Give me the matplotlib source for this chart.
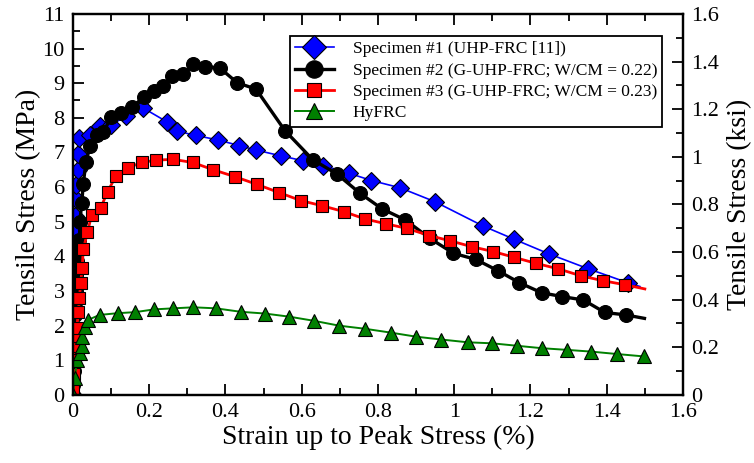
import numpy as np
import matplotlib
matplotlib.use('Agg')
import matplotlib.pyplot as plt
from matplotlib.ticker import MultipleLocator, FormatStrFormatter

plt.rcParams['font.family'] = ['Liberation Serif', 'DejaVu Serif']

# Specimen #1 (UHP-FRC [11])
s1_x = [0.0, 0.001, 0.002, 0.003, 0.003, 0.004, 0.005, 0.007, 0.009, 0.012, 0.012, 0.016,
        0.045, 0.07, 0.1, 0.14, 0.183, 0.247, 0.272, 0.322, 0.381, 0.435, 0.48, 0.546,
        0.604, 0.657, 0.724, 0.783, 0.858, 0.949, 1.075, 1.158, 1.249, 1.352, 1.455, 1.487]
s1_y = [0.0, 1.5, 3.0, 3.9, 4.33, 4.77, 5.17, 5.65, 6.06, 6.5, 6.95, 7.41,
        7.5, 7.75, 7.8, 8.05, 8.29, 7.88, 7.62, 7.49, 7.36, 7.2, 7.07, 6.9,
        6.76, 6.62, 6.4, 6.19, 5.98, 5.58, 4.88, 4.49, 4.07, 3.64, 3.24, 3.13]

# Specimen #2 (G-UHP-FRC; W/CM = 0.22)
s2_x = [0.0, 0.001, 0.002, 0.002, 0.003, 0.003, 0.004, 0.005, 0.006, 0.008, 0.011, 0.014,
        0.017, 0.018, 0.023, 0.027, 0.034, 0.045, 0.062, 0.08, 0.1, 0.126, 0.156, 0.187,
        0.212, 0.236, 0.26, 0.288, 0.316, 0.345, 0.385, 0.431, 0.48, 0.556, 0.629, 0.692,
        0.752, 0.811, 0.872, 0.936, 0.998, 1.057, 1.114, 1.171, 1.229, 1.283, 1.339, 1.395,
        1.45, 1.499]
s2_y = [0.0, 0.3, 0.7, 1.1, 1.5, 1.9, 2.3, 2.65, 3.05, 3.45, 3.88, 4.2,
        4.47, 5.0, 5.53, 6.1, 6.72, 7.2, 7.5, 7.58, 8.03, 8.13, 8.32, 8.61,
        8.77, 8.91, 9.2, 9.26, 9.54, 9.48, 9.44, 9.01, 8.83, 7.63, 6.79, 6.38,
        5.83, 5.37, 5.05, 4.52, 4.09, 3.91, 3.59, 3.24, 2.95, 2.84, 2.74, 2.38,
        2.31, 2.21]

# Specimen #3 (G-UHP-FRC; W/CM = 0.23)
s3_x = [0.0, 0.002, 0.004, 0.006, 0.008, 0.010, 0.014, 0.017, 0.020, 0.024, 0.027, 0.038,
        0.049, 0.073, 0.091, 0.113, 0.143, 0.18, 0.219, 0.263, 0.314, 0.368, 0.425, 0.482,
        0.541, 0.598, 0.654, 0.711, 0.766, 0.821, 0.875, 0.935, 0.989, 1.046, 1.102, 1.158,
        1.214, 1.273, 1.332, 1.389, 1.448, 1.5]
s3_y = [0.2, 0.6, 1.0, 1.4, 1.7, 1.93, 2.4, 2.8, 3.22, 3.66, 4.2, 4.7,
        5.2, 5.41, 5.87, 6.33, 6.55, 6.71, 6.78, 6.8, 6.71, 6.5, 6.3, 6.08,
        5.84, 5.61, 5.46, 5.29, 5.08, 4.94, 4.81, 4.6, 4.45, 4.28, 4.14, 3.97,
        3.8, 3.64, 3.44, 3.3, 3.18, 3.06]

# HyFRC
hy_x = [0.0, 0.005, 0.01, 0.018, 0.023, 0.023, 0.031, 0.04, 0.07, 0.117, 0.163, 0.213,
        0.263, 0.316, 0.375, 0.44, 0.503, 0.567, 0.632, 0.698, 0.766, 0.833, 0.901, 0.966,
        1.035, 1.1, 1.164, 1.229, 1.297, 1.36, 1.428, 1.499]
hy_y = [0.0, 0.5, 1.0, 1.2, 1.4, 1.68, 1.97, 2.17, 2.31, 2.36, 2.39, 2.47,
        2.5, 2.53, 2.5, 2.4, 2.35, 2.26, 2.14, 2.0, 1.91, 1.8, 1.68, 1.6,
        1.52, 1.49, 1.42, 1.35, 1.3, 1.25, 1.18, 1.11]

labels = ['Specimen #1 (UHP-FRC [11])',
          'Specimen #2 (G-UHP-FRC; W/CM = 0.22)',
          'Specimen #3 (G-UHP-FRC; W/CM = 0.23)',
          'HyFRC']

fig = plt.figure(figsize=(7.54, 4.63), dpi=100)
ax = fig.add_axes([0.0968, 0.147, 0.809, 0.823])

ax.plot(s1_x, s1_y, color='blue', lw=1.2, marker='D', ms=9.5, mfc='blue', mec='black', mew=0.8,
        markevery=list(range(len(s1_x) - 1)), label=labels[0])
ax.plot(s2_x, s2_y, color='black', lw=2.4, marker='o', ms=10, mfc='black', mec='black', mew=0.8,
        markevery=list(range(len(s2_x) - 1)), label=labels[1])
ax.plot(s3_x, s3_y, color='red', lw=2.0, marker='s', ms=8.5, mfc='red', mec='black', mew=0.8,
        markevery=list(range(len(s3_x) - 1)), label=labels[2])
ax.plot(hy_x, hy_y, color='green', lw=1.4, marker='^', ms=9.5, mfc='green', mec='black', mew=0.8,
        label=labels[3])

ax.set_xlim(0, 1.6)
ax.set_ylim(0, 11)
ax.xaxis.set_major_locator(MultipleLocator(0.2))
ax.xaxis.set_minor_locator(MultipleLocator(0.1))
ax.yaxis.set_major_locator(MultipleLocator(1))
ax.yaxis.set_minor_locator(MultipleLocator(0.5))
ax.xaxis.set_major_formatter(FormatStrFormatter('%g'))
ax.tick_params(which='both', direction='in', top=True, right=False, width=1.3, labelsize=16, pad=6)
ax.tick_params(which='major', length=8)
ax.tick_params(which='minor', length=5)
ax.set_xlabel('Strain up to Peak Stress (%)', fontsize=20, labelpad=2)
ax.set_ylabel('Tensile Stress (MPa)', fontsize=20, labelpad=1)

ax2 = ax.twinx()
ax2.set_ylim(0, 1.6)
ax2.yaxis.set_major_locator(MultipleLocator(0.2))
ax2.yaxis.set_minor_locator(MultipleLocator(0.1))
ax2.yaxis.set_major_formatter(FormatStrFormatter('%g'))
ax2.tick_params(which='both', direction='in', width=1.3, labelsize=16, pad=6)
ax2.tick_params(which='major', length=8)
ax2.tick_params(which='minor', length=5)
ax2.set_ylabel('Tensile Stress (ksi)', fontsize=20, labelpad=6)

for a in (ax, ax2):
    for sp in a.spines.values():
        sp.set_linewidth(1.6)

leg = ax.legend(loc='upper left', bbox_to_anchor=(0.356, 0.942), borderaxespad=0,
                fontsize=12.5, handlelength=2.2, handletextpad=1.1, labelspacing=0.3,
                markerscale=1.25, fancybox=False, framealpha=1, edgecolor='black',
                borderpad=0.3)
leg.get_frame().set_linewidth(1.3)

fig.savefig('out.png', dpi=100)
